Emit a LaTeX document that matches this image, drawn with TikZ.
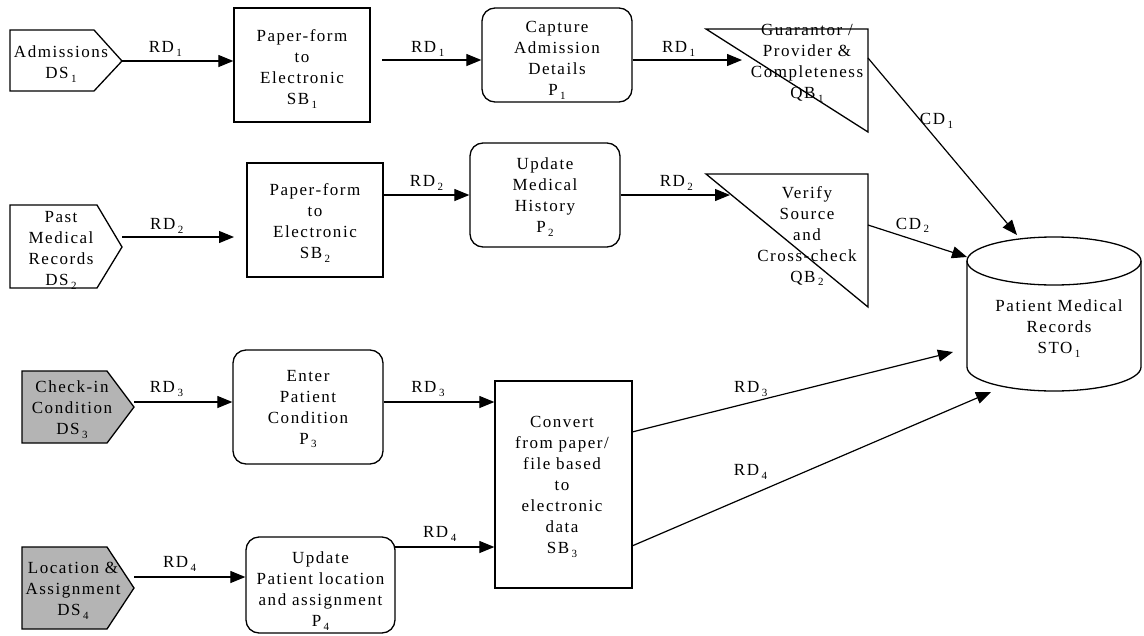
\documentclass[tikz,border=0pt]{standalone}
\usepackage{fontspec}
\setmainfont{Liberation Serif}[LetterSpace=9]
\usetikzlibrary{arrows.meta}
\definecolor{srcgray}{RGB}{180,180,180}
% small lowered index used in every label (RD_1, SB_2, ...)
\newcommand\lsub[1]{\kern2.5pt\raisebox{-0.5ex}{\fontsize{11}{11}\selectfont #1}}

\begin{document}
\begin{tikzpicture}[x=1pt,y=-1pt,
  txt/.style={font=\fontsize{17}{21}\selectfont, align=center, inner sep=0pt},
  outline/.style={line width=1.3pt, line join=miter},
  stepbox/.style={draw, line width=1.3pt, inner sep=0pt},
  procbox/.style={stepbox, rounded corners=13pt},
  flow/.style={line width=1.2pt, -{Triangle[length=15pt,width=12pt]}},
  lab/.style={txt}
]
\useasboundingbox (0,0) rectangle (1144,635);

% ---------- sources ----------
\draw[outline] (10,30) -- (94,30) -- (122,61) -- (94,91) -- (10,91) -- cycle;
\node[txt] (ds1) at (61,64) {Admissions\\DS\lsub1};
\coordinate (ds1out) at (122,61);

\draw[outline] (10,205) -- (97,205) -- (122,247) -- (97,288) -- (10,288) -- cycle;
\node[txt] (ds2) at (61,250) {Past\\Medical\\Records\\DS\lsub2};
\coordinate (ds2out) at (122,237);

\draw[outline, fill=srcgray] (22,371) -- (107,371) -- (134,407) -- (107,443) -- (22,443) -- cycle;
\node[txt] (ds3) at (72,410) {Check-in\\Condition\\DS\lsub3};
\coordinate (ds3out) at (134,402);

\draw[outline, fill=srcgray] (22,547) -- (107,547) -- (134,588) -- (107,629) -- (22,629) -- cycle;
\node[txt] (ds4) at (73,591) {Location \&\\Assignment\\DS\lsub4};
\coordinate (ds4out) at (134,577);

% ---------- conversion and process steps ----------
\node[stepbox, minimum width=136pt, minimum height=114pt] (sb1) at (302,65) {};
\node[txt] (sb1t) at (302,69) {Paper-form\\to\\Electronic\\SB\lsub1};
\node[procbox, minimum width=150pt, minimum height=94pt] (p1) at (557,55) {};
\node[txt] (p1t) at (557,60) {Capture\\Admission\\Details\\P\lsub1};
\node[stepbox, minimum width=136pt, minimum height=114pt] (sb2) at (315,220) {};
\node[txt] (sb2t) at (315,223) {Paper-form\\to\\Electronic\\SB\lsub2};
\node[procbox, minimum width=150pt, minimum height=104pt] (p2) at (545,195) {};
\node[txt] (p2t) at (545,197) {Update\\Medical\\History\\P\lsub2};
\node[procbox, minimum width=150pt, minimum height=114pt] (p3) at (308,407) {};
\node[txt] (p3t) at (308,409) {Enter\\Patient\\Condition\\P\lsub3};
\node[procbox, minimum width=149pt, minimum height=96pt] (p4) at (320.5,585) {};
\node[txt] (p4t) at (320.5,591) {Update\\Patient location\\and assignment\\P\lsub4};
\node[stepbox, minimum width=137pt, minimum height=207pt] (sb3) at (563.5,484.5) {};
\node[txt] (sb3t) at (562,487) {Convert\\from paper/\\file based\\to\\electronic\\data\\SB\lsub3};

% ---------- quality checks ----------
\node[txt] (qb1) at (807,63) {Guarantor /\\Provider \&\\Completeness\\QB\lsub1};
\draw[outline] (706,29) -- (868,29) -- (868,132) -- cycle;
\coordinate (qb1in) at (742,60);
\coordinate (qb1out) at (868,58);

\node[txt] (qb2) at (807,236) {Verify\\Source\\and\\Cross-check\\QB\lsub2};
\draw[outline] (706,174) -- (868,174) -- (868,307) -- cycle;
\coordinate (qb2in) at (730,195);
\coordinate (qb2out) at (868,225);

% ---------- storage ----------
\draw[outline] (1054,261) ellipse [x radius=87, y radius=24];
\draw[outline] (967,261) -- (967,367) arc[start angle=180, end angle=0, x radius=87, y radius=24] -- (1141,261);
\node[txt] (sto) at (1059,329) {Patient Medical\\Records\\STO\lsub1};
\coordinate (stoA) at (1017,235);
\coordinate (stoB) at (967,257);
\coordinate (stoC) at (953,352);
\coordinate (stoD) at (991,392);

% ---------- flows ----------
\coordinate (sb1out) at (382,60);
\coordinate (sb2in) at (234,237);
\draw[flow] (ds1out) -- node[lab, pos=.39, yshift=12pt] {RD\lsub1} (sb1.west |- ds1out);
\draw[flow] (sb1out) -- node[lab, pos=.46, yshift=11pt] {RD\lsub1} (p1.west |- sb1out);
\draw[flow] (p1.east |- qb1in) -- node[lab, pos=.42, yshift=11pt] {RD\lsub1} (qb1in);
\draw[flow] (qb1out) -- node[lab, pos=.46, yshift=19pt] {CD\lsub1} (stoA);

\draw[flow] (ds2out) -- node[lab, pos=.40, yshift=11pt] {RD\lsub2} (sb2in);
\draw[flow] (sb2.east |- p2) -- node[lab, pos=.5, yshift=12pt] {RD\lsub2} (p2.west);
\draw[flow] (p2.east) -- node[lab, pos=.51, yshift=12pt] {RD\lsub2} (qb2in);
\draw[flow] (qb2out) -- node[lab, pos=.45, yshift=14pt] {CD\lsub2} (stoB);

\draw[flow] (ds3out) -- node[lab, pos=.33, yshift=13pt] {RD\lsub3} (p3.west |- ds3out);
\draw[flow] (p3.east |- ds3out) -- node[lab, pos=.40, yshift=13pt] {RD\lsub3} (sb3.west |- ds3out);
\draw[flow] (ds4out) -- node[lab, pos=.41, yshift=13pt] {RD\lsub4} (p4.west |- ds4out);
\coordinate (p4out) at (395,547);
\draw[flow] (p4out) -- node[lab, pos=.45, yshift=13pt] {RD\lsub4} (sb3.west |- p4out);

\coordinate (sb3outA) at (632,432);
\coordinate (sb3outB) at (632,546);
\draw[flow] (sb3outA) -- node[lab, pos=.37, yshift=13pt] {RD\lsub3} (stoC);
\draw[flow] (sb3outB) -- node[lab, pos=.33, yshift=23pt] {RD\lsub4} (stoD);
\end{tikzpicture}
\end{document}
